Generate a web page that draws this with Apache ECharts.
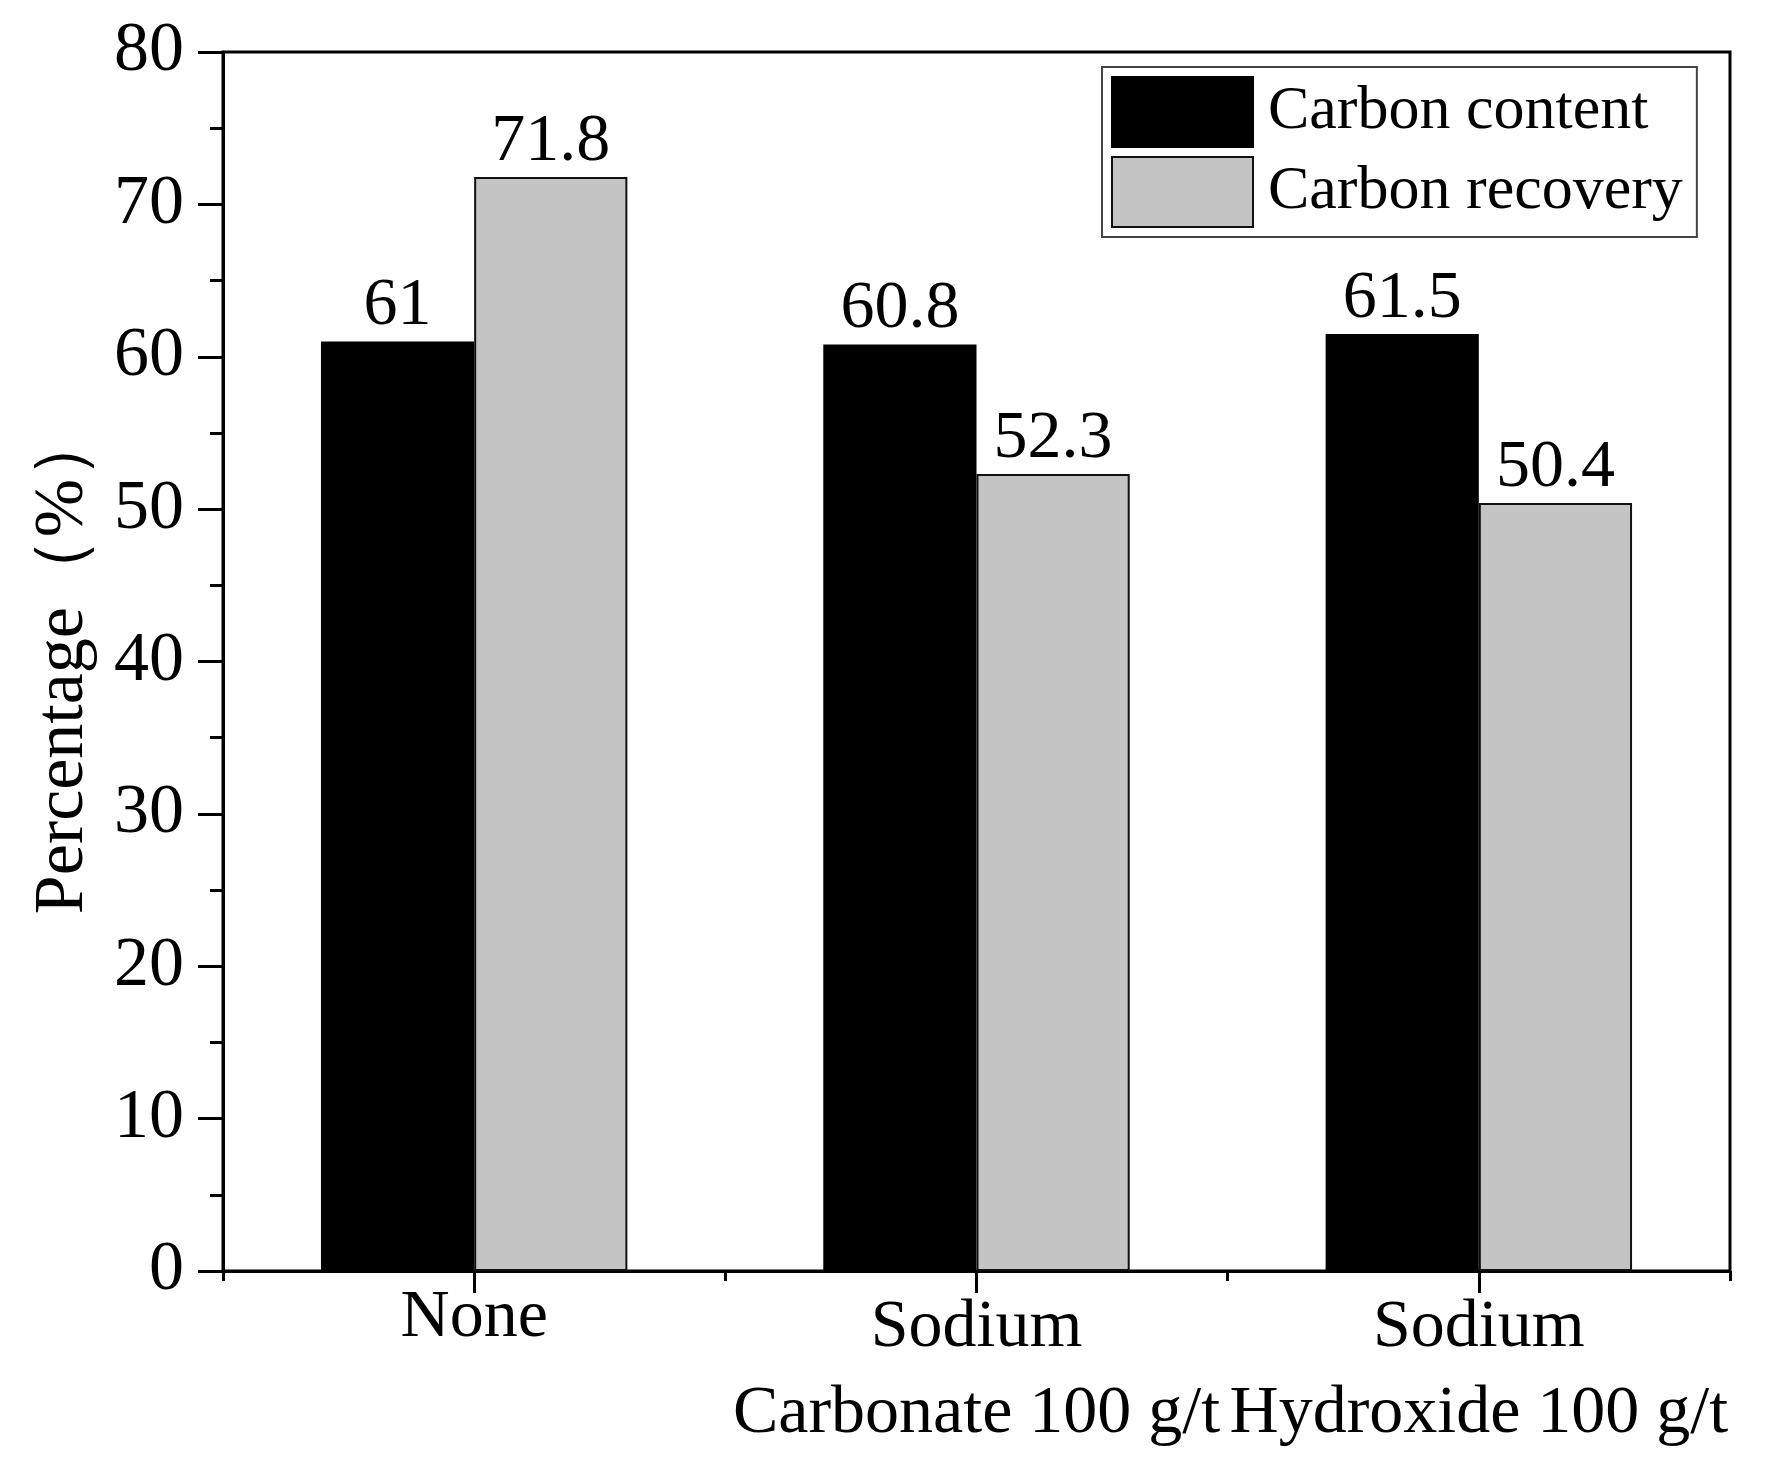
<!DOCTYPE html>
<html>
<head>
<meta charset="utf-8">
<style>html,body{margin:0;padding:0;background:#fff}#c{width:1774px;height:1466px}</style>
<script src="https://cdn.jsdelivr.net/npm/echarts@6/dist/echarts.min.js"></script>
</head>
<body>
<div id="c"></div>
<script>
const categories = ['None', 'Sodium\nCarbonate 100 g/t', 'Sodium\nHydroxide 100 g/t'];
const carbonContent = [61, 60.8, 61.5];
const carbonRecovery = [71.8, 52.3, 50.4];
const seriesNames = ['Carbon content', 'Carbon recovery'];
const yMin = 0, yMax = 80, yStep = 10;

const FONT = '"Liberation Serif", "Times New Roman", serif';
const chart = echarts.init(document.getElementById('c'));
const valLabel = {
  show: true, position: 'top', distance: 1,
  color: '#000', fontSize: 68, fontFamily: FONT
};
chart.setOption({
  animation: false,
  textStyle: { fontFamily: FONT, color: '#000' },
  grid: {
    left: 223, right: 44, top: 52, bottom: 195,
    show: true, borderColor: '#000', borderWidth: 3, backgroundColor: 'transparent'
  },
  legend: {
    orient: 'vertical', left: 1102, top: 67,
    padding: [9, 14, 9, 9], itemGap: 8,
    itemWidth: 141, itemHeight: 70,
    borderColor: '#444', borderWidth: 2, backgroundColor: '#fff',
    icon: 'rect',
    textStyle: { fontSize: 62, color: '#000', fontFamily: FONT, padding: [0, 0, 0, 10] },
    data: seriesNames
  },
  xAxis: [{
    type: 'category', data: categories, position: 'bottom',
    axisLine: { show: true, lineStyle: { color: '#000', width: 3 } },
    axisTick: { show: true, alignWithLabel: true, length: 22, lineStyle: { color: '#000', width: 3 } },
    axisLabel: {
      interval: 0, fontSize: 68, color: '#000', fontFamily: FONT, margin: 14, lineHeight: 86,
      formatter: function (v) { return v === 'None' ? '{n|None}' : v; },
      rich: { n: { fontSize: 68, fontFamily: FONT, color: '#000', lineHeight: 66 } }
    },
    splitLine: { show: false }
  }, {
    type: 'category', data: categories, position: 'bottom',
    axisLine: { show: false },
    axisTick: { show: true, alignWithLabel: false, length: 10, lineStyle: { color: '#000', width: 3 } },
    axisLabel: { show: false },
    splitLine: { show: false }
  }],
  yAxis: {
    type: 'value', min: yMin, max: yMax, interval: yStep,
    name: 'Percentage（%）', nameLocation: 'middle', nameGap: 124,
    nameTextStyle: { fontSize: 70, color: '#000', fontFamily: FONT },
    axisLine: { show: true, lineStyle: { color: '#000', width: 3 } },
    axisTick: { show: true, length: 25, lineStyle: { color: '#000', width: 3 } },
    minorTick: { show: true, splitNumber: 2, length: 13, lineStyle: { color: '#000', width: 3 } },
    axisLabel: { fontSize: 70, color: '#000', fontFamily: FONT, margin: 39 },
    splitLine: { show: false }
  },
  series: [{
    name: seriesNames[0], type: 'bar', data: carbonContent,
    barGap: '0%', barCategoryGap: '39%',
    itemStyle: { color: '#000', borderColor: '#000', borderWidth: 2 },
    label: valLabel
  }, {
    name: seriesNames[1], type: 'bar', data: carbonRecovery,
    barGap: '0%', barCategoryGap: '39%',
    itemStyle: { color: '#c4c4c4', borderColor: '#111', borderWidth: 2 },
    label: valLabel
  }]
});
</script>
</body>
</html>
